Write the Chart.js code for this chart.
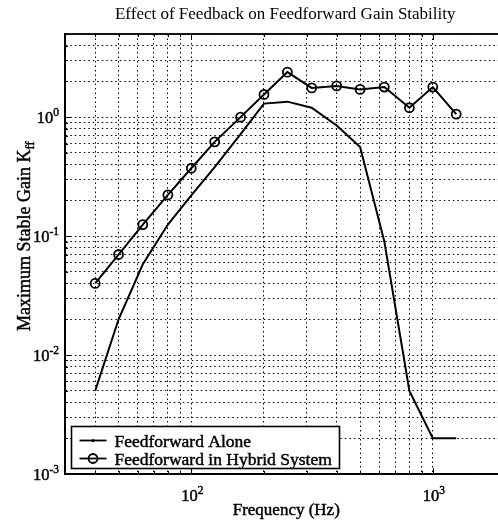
<!DOCTYPE html>
<html>
<head>
<meta charset="utf-8">
<script src="https://cdn.jsdelivr.net/npm/chart.js@4"></script>
<style>
  html, body { margin: 0; padding: 0; background: #fff; overflow: hidden; }
  #wrap { width: 498px; height: 520px; overflow: hidden; }
  canvas { display: block; }
</style>
</head>
<body>
<div id="wrap"><canvas id="c" width="520" height="520"></canvas></div>
<script>
// data (1/3 octave centre frequencies)
const freqs = [40, 50, 63, 80, 100, 125, 160, 200, 250, 315, 400, 500, 630, 800, 1000, 1250];
const aloneGain = [0.005, 0.02, 0.058, 0.125, 0.22, 0.38, 0.72, 1.3, 1.35, 1.2, 0.85, 0.56, 0.09, 0.005, 0.002, 0.002];
const hybridGain = [0.04, 0.07, 0.125, 0.222, 0.372, 0.62, 1.0, 1.55, 2.39, 1.76, 1.83, 1.71, 1.79, 1.2, 1.79, 1.06];
const seriesNames = ['Feedforward Alone', 'Feedforward in Hybrid System'];
const xDecades = [2, 3];
const yDecades = [0, -1, -2, -3];

const serif = '"Liberation Serif", "DejaVu Serif", serif';

// grid at 1..9 x 10^n like matlab
function logTicks(min, max) {
  const out = [];
  for (let e = Math.floor(Math.log10(min)); e <= Math.ceil(Math.log10(max)); e++) {
    for (let m = 1; m < 10; m++) {
      const v = +(m * Math.pow(10, e)).toPrecision(6);
      if (v >= min * 0.999 && v <= max * 1.001) out.push({ value: v, major: m === 1 });
    }
  }
  return out;
}

// scanned text looks heavy, so fill + thin stroke
function heavyText(ctx, txt, x, y) {
  ctx.fillText(txt, x, y);
  ctx.lineWidth = 0.45;
  ctx.strokeText(txt, x, y);
}

function drawPow(ctx, x, y, exp, align) {
  ctx.font = '16.5px ' + serif;
  const bw = ctx.measureText('10').width;
  ctx.font = '11.5px ' + serif;
  const ew = ctx.measureText(exp).width;
  const left = align === 'right' ? x - bw - ew : x - (bw + ew) / 2;
  ctx.font = '16.5px ' + serif;
  heavyText(ctx, '10', left, y);
  ctx.font = '11.5px ' + serif;
  heavyText(ctx, exp, left + bw, y - 7);
}

const decor = {
  id: 'decor',
  afterDraw(chart) {
    const ctx = chart.ctx;
    const ca = chart.chartArea;
    const xs = chart.scales.x, ys = chart.scales.y;
    ctx.save();
    ctx.fillStyle = '#000';
    ctx.strokeStyle = '#000';
    ctx.textBaseline = 'alphabetic';
    ctx.textAlign = 'left';

    // inward tick marks
    ctx.lineWidth = 1;
    ctx.beginPath();
    xs.ticks.forEach(t => {
      const px = Math.round(xs.getPixelForValue(t.value)) + 0.5;
      const len = t.major ? 6 : 3;
      ctx.moveTo(px, ca.bottom); ctx.lineTo(px, ca.bottom - len);
      ctx.moveTo(px, ca.top); ctx.lineTo(px, ca.top + len);
    });
    ys.ticks.forEach(t => {
      const py = Math.round(ys.getPixelForValue(t.value)) + 0.5;
      const len = t.major ? 6 : 3;
      ctx.moveTo(ca.left, py); ctx.lineTo(ca.left + len, py);
    });
    ctx.stroke();

    // box round the axes
    ctx.lineWidth = 1.8;
    ctx.strokeRect(ca.left, ca.top, ca.right - ca.left, ca.bottom - ca.top);

    // decade labels with superscripts
    xDecades.forEach(e => drawPow(ctx, xs.getPixelForValue(Math.pow(10, e)) + 1, ca.bottom + 27, String(e), 'center'));
    yDecades.forEach(e => drawPow(ctx, ca.left - 6, ys.getPixelForValue(Math.pow(10, e)) + 6, String(e), 'right'));

    // x axis title
    ctx.font = '17px ' + serif;
    ctx.textAlign = 'center';
    heavyText(ctx, 'Frequency (Hz)', (ca.left + ca.right) / 2 + 1, ca.bottom + 41);

    // y axis title with subscript
    ctx.save();
    ctx.translate(30, ys.getPixelForValue(0.1));
    ctx.rotate(-Math.PI / 2);
    ctx.textAlign = 'left';
    ctx.font = '18px ' + serif;
    const main = 'Maximum Stable Gain K';
    const mw = ctx.measureText(main).width;
    ctx.font = '12.5px ' + serif;
    const sw = ctx.measureText('ff').width;
    const x0 = -(mw + sw) / 2;
    ctx.font = '18px ' + serif;
    heavyText(ctx, main, x0, 0);
    ctx.font = '12.5px ' + serif;
    heavyText(ctx, 'ff', x0 + mw, 4);
    ctx.restore();

    // legend, bottom left inside the axes
    const lx = ca.left + 6.5, ly = ca.bottom - 47.5, lw = 268, lh = 42;
    ctx.fillStyle = '#fff';
    ctx.fillRect(lx, ly, lw, lh);
    ctx.lineWidth = 1.6;
    ctx.strokeRect(lx, ly, lw, lh);
    ctx.fillStyle = '#000';
    ctx.font = '17.5px ' + serif;
    ctx.textAlign = 'left';
    seriesNames.forEach((name, i) => {
      const cy = ly + 14 + i * 18;
      ctx.lineWidth = 1.8;
      ctx.beginPath();
      ctx.moveTo(lx + 8, cy);
      ctx.lineTo(lx + 35, cy);
      ctx.stroke();
      if (i === 0) {
        ctx.beginPath();
        ctx.arc(lx + 21.5, cy, 1.5, 0, Math.PI * 2);
        ctx.fill();
      } else {
        ctx.fillStyle = '#fff';
        ctx.beginPath();
        ctx.arc(lx + 21.5, cy, 4.5, 0, Math.PI * 2);
        ctx.stroke();
        ctx.fillStyle = '#000';
      }
      heavyText(ctx, name, lx + 43, cy + 6);
    });
    ctx.restore();
  }
};

const gridOpts = { color: '#000', lineWidth: 1, drawTicks: false };
const borderOpts = { display: true, color: '#000', width: 1.8, dash: [1.5, 3] };

new Chart(document.getElementById('c'), {
  type: 'line',
  data: {
    datasets: [
      {
        label: seriesNames[0],
        data: freqs.map((f, i) => ({ x: f, y: aloneGain[i] })),
        borderColor: '#000',
        borderWidth: 2,
        pointRadius: 0,
        fill: false
      },
      {
        label: seriesNames[1],
        data: freqs.map((f, i) => ({ x: f, y: hybridGain[i] })),
        borderColor: '#000',
        borderWidth: 2,
        pointRadius: 4.5,
        pointBorderWidth: 1.8,
        pointBorderColor: '#000',
        pointBackgroundColor: 'rgba(0,0,0,0)',
        fill: false
      }
    ]
  },
  options: {
    responsive: false,
    animation: false,
    devicePixelRatio: 1,
    layout: { padding: { left: 0, right: 14.5, top: 0, bottom: 0 } },
    plugins: {
      legend: { display: false },
      tooltip: { enabled: false },
      title: {
        display: true,
        text: 'Effect of Feedback on Feedforward Gain Stability',
        fullSize: false,
        color: '#000',
        font: { family: serif, size: 17, weight: 'normal' },
        padding: { top: 4, bottom: 9.6 }
      }
    },
    scales: {
      x: {
        type: 'logarithmic',
        min: 30,
        max: 2000,
        afterBuildTicks: s => { s.ticks = logTicks(30, 2000); },
        afterFit: s => { s.height = 46; },
        ticks: { display: false },
        grid: gridOpts,
        border: borderOpts
      },
      y: {
        type: 'logarithmic',
        min: 0.001,
        max: 5,
        afterBuildTicks: s => { s.ticks = logTicks(0.001, 5); },
        afterFit: s => { s.width = 65; },
        ticks: { display: false },
        grid: gridOpts,
        border: borderOpts
      }
    }
  },
  plugins: [decor]
});
</script>
</body>
</html>
